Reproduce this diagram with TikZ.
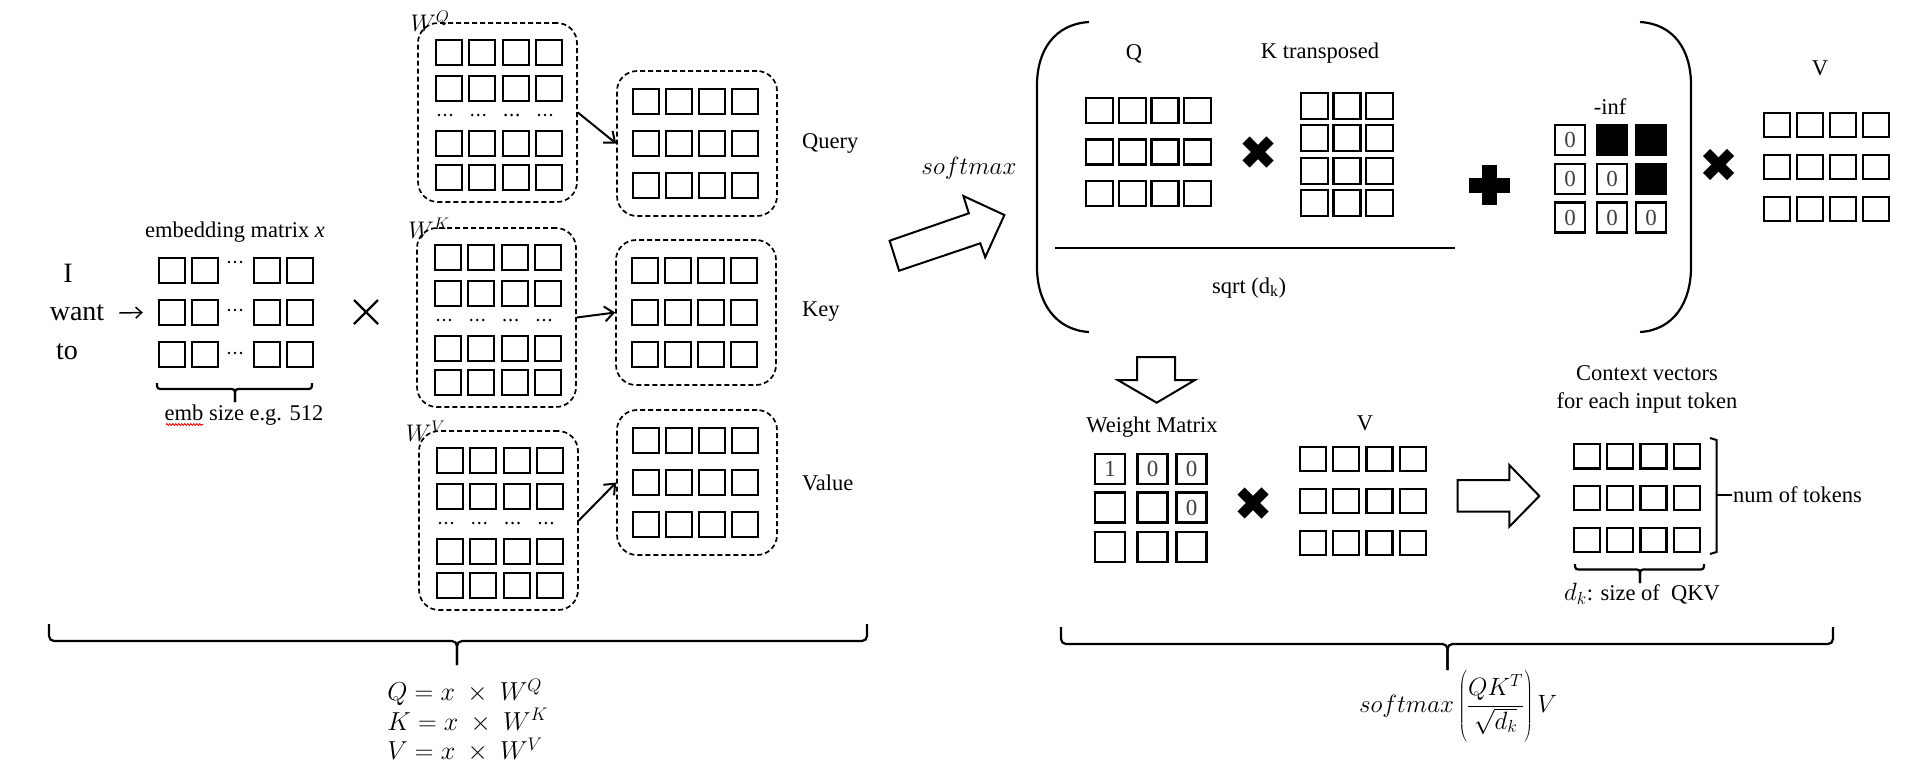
\documentclass[tikz,border=0pt]{standalone}
\usepackage{fix-cm}
\usepackage{fontspec}
\setmainfont{Liberation Serif}
\usetikzlibrary{arrows.meta,decorations.pathmorphing}

\newcommand\mgrid[8]{%
  \foreach \gi in {1,...,#3}{%
    \foreach \gj in {1,...,#4}{%
      \draw[cell] ({#1+(\gi-1)*#7+1},{#2+(\gj-1)*#8+1}) rectangle ++({#5-2},{#6-2});
    }}}
\newcommand\dotrow[4]{%
  \foreach \gi in {1,...,#3}{%
    \foreach \gd in {4,10,16}{%
      \fill ({#1+(\gi-1)*#4+\gd},{#2}) circle (1.4pt);
    }}}
\newcommand\heavyx[2]{%
  \draw[heavy] ({#1-12},{#2-12}) -- ({#1+12},{#2+12});
  \draw[heavy] ({#1-12},{#2+12}) -- ({#1+12},{#2-12});}
\newcommand\wblock[3]{%
  \node[dbox, minimum width=159pt, minimum height=179pt] (#3) at ({#1+79.5},{#2+89.5}) {};
  \mgrid{#1+17}{#2+16}{4}{2}{28}{27}{33.3}{36}
  \mgrid{#1+17}{#2+107}{4}{2}{28}{27}{33.3}{34}
  \dotrow{#1+17}{#2+92}{4}{33.3}}
\newcommand\oblock[3]{%
  \node[dbox, minimum width=160pt, minimum height=145pt] (#3) at ({#1+80},{#2+72.5}) {};
  \mgrid{#1+15}{#2+17}{4}{3}{28}{27}{33}{42}}

\begin{document}
\begin{tikzpicture}[x=1pt,y=-1pt,
  cell/.style={draw, line width=2.2pt},
  dbox/.style={draw, line width=1.7pt, dash pattern=on 5pt off 3pt, rounded corners=20pt, inner sep=0pt},
  txt/.style={inner sep=0pt, font=\fontsize{22.5}{28}\selectfont},
  big/.style={inner sep=0pt, font=\fontsize{28}{28}\selectfont},
  barb/.style={-{Straight Barb[length=9pt,width=15pt]}, line width=2pt},
  brc/.style={line width=2.2pt, rounded corners=5pt},
  heavy/.style={line width=10pt},
  blk/.style={draw, line width=2pt, fill=white},
  mcell/.style={draw, line width=2.2pt, minimum width=30pt, minimum height=30pt, inner sep=0pt,
    font=\fontsize{23}{23}\selectfont, text=black!75},
]
\useasboundingbox (0,0) rectangle (1910,772);

% ---------- left: input tokens and embedding matrix ----------
\node[big] (wI) at (68,273) {I};
\node[big] (wwant) at (77,313) {want};
\node[big] (wto) at (67,352) {to};

\node[txt] (embl) at (235,232) {embedding matrix \textit{x}};
\node[inner sep=0pt, minimum width=155pt, minimum height=111pt] (emb) at (235.5,312.5) {};
\mgrid{158}{257}{2}{3}{28}{27}{33}{42}
\mgrid{253}{257}{2}{3}{28}{27}{33}{42}
\foreach \yy in {262,310,353}{\foreach \gd in {229,235,241}{\fill (\gd,\yy) circle (1.3pt);}}
\draw[line width=1.5pt, -{Straight Barb[length=6pt,width=11pt]}] ([xshift=15pt]wwant.east) -- ([xshift=-15pt]emb.west);

\draw[brc, rounded corners=3pt] (157,383) -- (157,389) -- (235,389) -- (235,402);
\draw[brc, rounded corners=3pt] (312,383) -- (312,389) -- (235,389) -- (235,402);
\node[txt] (embsz) at (244,415) {emb size e.g. 512};
\draw[red, line width=0.8pt, decorate, decoration={zigzag,amplitude=1pt,segment length=3pt}] (166,424.5) -- (203,424.5);

\draw[line width=2.2pt] (354,300) -- (378,324);
\draw[line width=2.2pt] (354,324) -- (378,300);

% ---------- weight matrices ----------
\wblock{418}{23}{wq}
\wblock{417}{228}{wk}
\wblock{419}{431}{wv}
\node[inner sep=0pt, font=\fontsize{24}{24}\selectfont] (lwq) at (430,21.5) {$W^{Q}$};
\node[inner sep=0pt, font=\fontsize{24}{24}\selectfont] (lwk) at (429,228.5) {$W^{K}$};
\node[inner sep=0pt, font=\fontsize{24}{24}\selectfont] (lwv) at (425.5,431) {$W^{V}$};

\oblock{617}{71}{qo}
\oblock{616}{240}{ko}
\oblock{617}{410}{vo}
\node[txt, anchor=west] (lq) at (802,143) {Query};
\node[txt, anchor=west] (lk) at (802,312) {Key};
\node[txt, anchor=west] (lv) at (802,483) {Value};
\draw[barb] (wq.east) -- (qo.west);
\draw[barb] (wk.east) -- (ko.west);
\draw[barb] (wv.east) -- (vo.west);

\draw[brc] (49,624) -- (49,641) -- (457,641) -- (457,665);
\draw[brc] (867,624) -- (867,641) -- (457,641) -- (457,665);
\node[inner sep=0pt, align=left, font=\fontsize{26}{29.5}\selectfont] (eqs) at (467.5,720.5)
  {$Q = x\ \times\ W^{Q}$\\ $K = x\ \times\ W^{K}$\\ $V = x\ \times\ W^{V}$};

% ---------- right: attention ----------
\node[inner sep=0pt, font=\fontsize{25}{25}\selectfont] (sm) at (969,168) {$softmax$};
\draw[blk] (889.6,240.7) -- (968.8,213.3) -- (963.4,196) -- (1004.4,215) -- (985.2,257.3) -- (980.3,243.3) -- (899.1,270.7) -- cycle;

\draw[line width=2.2pt] (1089,22) .. controls (1055,24) and (1037,50) .. (1037,85) -- (1037,267) .. controls (1037,302) and (1055,330) .. (1089,332);
\draw[line width=2.2pt] (1640,22) .. controls (1674,24) and (1691,50) .. (1691,85) -- (1691,267) .. controls (1691,302) and (1674,330) .. (1640,332);

\node[txt] (ql) at (1134,54) {Q};
\mgrid{1085}{97}{4}{3}{29}{27}{32.7}{41.5}
\heavyx{1258}{152}
\node[txt] (ktl) at (1320,53) {K transposed};
\mgrid{1300}{92}{3}{4}{29}{28}{32.5}{32.3}
\draw[line width=1.8pt] (1055,247.7) -- (1455,247.7);
\node[txt] (sq) at (1249,288) {sqrt (d\textsubscript{k})};

\fill (1469,177.5) rectangle (1510,192.5);
\fill (1482,165) rectangle (1497,205);

\node[txt] (inf) at (1610,107) {-inf};
\node[mcell] (m11) at (1570,140) {0};
\node[mcell, fill=black] (m12) at (1612,140) {};
\node[mcell, fill=black] (m13) at (1651,140) {};
\node[mcell] (m21) at (1570,179) {0};
\node[mcell] (m22) at (1612,179) {0};
\node[mcell, fill=black] (m23) at (1651,179) {};
\node[mcell] (m31) at (1570,217.5) {0};
\node[mcell] (m32) at (1612,217.5) {0};
\node[mcell] (m33) at (1651,217.5) {0};

\heavyx{1718.5}{164.5}
\node[txt] (vl1) at (1820,68) {V};
\mgrid{1763}{112}{4}{3}{28}{26}{33}{42}

% ---------- lower right ----------
\draw[blk] (1137,357) -- (1175,357) -- (1175,380) -- (1195,380) -- (1156.7,402.7) -- (1117.7,380) -- (1137,380) -- cycle;
\node[txt] (wml) at (1152,427) {Weight Matrix};
\node[mcell] (w11) at (1110,469) {1};
\node[mcell] (w12) at (1152.5,469) {0};
\node[mcell] (w13) at (1191.5,469) {0};
\node[mcell] (w21) at (1110,507.5) {};
\node[mcell] (w22) at (1152.5,507.5) {};
\node[mcell] (w23) at (1191.5,507.5) {0};
\node[mcell] (w31) at (1110,546.7) {};
\node[mcell] (w32) at (1152.5,546.7) {};
\node[mcell] (w33) at (1191.5,546.7) {};

\heavyx{1253}{503}
\node[txt] (vl2) at (1365,423) {V};
\mgrid{1299}{446}{4}{3}{28}{26}{33.2}{42}

\draw[blk] (1457.7,480) -- (1509.3,480) -- (1509.3,465) -- (1539.3,496) -- (1509.3,526.7) -- (1509.3,511.7) -- (1457.7,511.7) -- cycle;

\node[txt, align=center] (ctx) at (1647,389) {Context vectors\\for each input token};
\mgrid{1573}{443}{4}{3}{28}{26.5}{33.2}{41.8}
\draw[line width=2pt] (1710,438) -- (1716.5,440) -- (1716.5,552) -- (1710,554);
\draw[line width=2pt] (1716.5,495) -- (1731.5,495);
\node[txt, anchor=west] (nt) at (1733,495) {num of tokens};
\draw[brc, rounded corners=3pt] (1575,564) -- (1575,569.5) -- (1640,569.5) -- (1640,583);
\draw[brc, rounded corners=3pt] (1704,564) -- (1704,569.5) -- (1640,569.5) -- (1640,583);
\node[txt] (dk) at (1642,594) {{\fontsize{25}{25}\selectfont$d_k$}: size of\ \ QKV};

\draw[brc] (1061,627) -- (1061,644) -- (1447.5,644) -- (1447.5,670);
\draw[brc] (1833,627) -- (1833,644) -- (1447.5,644) -- (1447.5,670);
\node[inner sep=0pt, font=\fontsize{25}{30}\selectfont] (formula) at (1458,706)
  {$\displaystyle softmax\left(\rule[-32pt]{0pt}{76pt}\frac{QK^{T}}{\sqrt{d_k}}\right)V$};
\end{tikzpicture}
\end{document}
